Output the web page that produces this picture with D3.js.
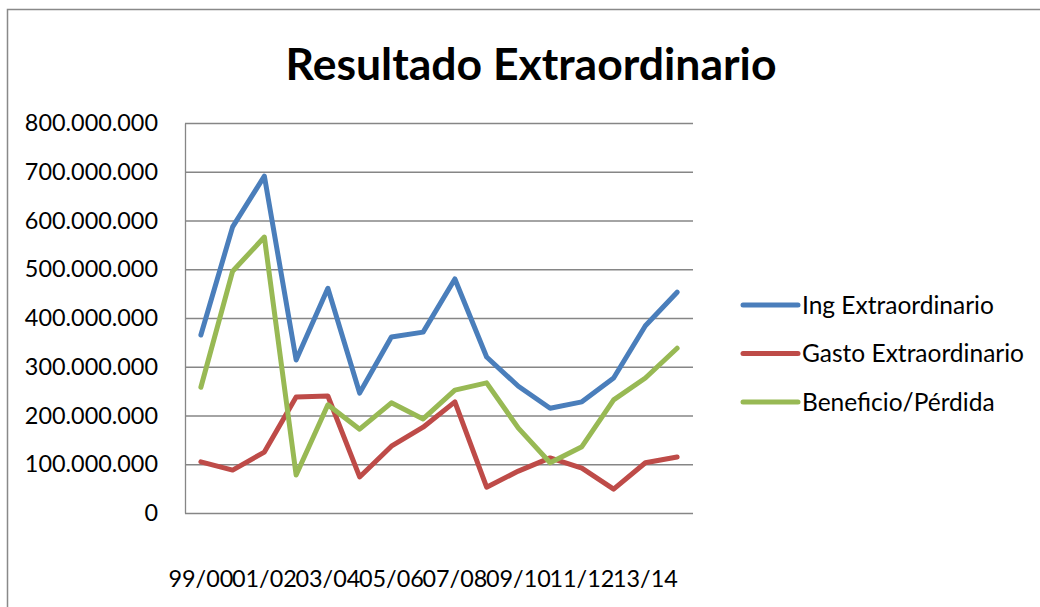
<!DOCTYPE html>
<html>
<head>
<meta charset="utf-8">
<script src="https://cdn.jsdelivr.net/npm/d3@7"></script>
<style>
  body { margin: 0; background: #fff; }
  svg { display: block; font-family: Lato, "Open Sans", sans-serif; }
</style>
</head>
<body>
<svg id="svg" width="1040" height="607"></svg>
<script>
// categories (16 seasons) and series
const categories = ['99/00', '00/01', '01/02', '02/03', '03/04', '04/05', '05/06', '06/07',
                    '07/08', '08/09', '09/10', '10/11', '11/12', '12/13', '13/14', '14/15'];
const ingExtra   = [365, 587, 691, 314, 461, 246, 361, 371, 480, 320, 260, 215, 228, 277, 384, 453];
const gastoExtra = [105, 88, 125, 238, 240, 74, 137, 176, 228, 53, 86, 113, 92, 49, 103, 115];
const beneficio  = [258, 496, 566, 78, 222, 172, 226, 193, 252, 267, 174, 103, 136, 232, 277, 338];
const yTicks = [0, 100, 200, 300, 400, 500, 600, 700, 800];

const series = [
  { name: 'Ing Extraordinario', values: ingExtra, color: '#4a7ebb' },
  { name: 'Gasto Extraordinario', values: gastoExtra, color: '#be4b48' },
  { name: 'Beneficio/Pérdida', values: beneficio, color: '#98b954' }
];

const svg = d3.select('#svg');
const plot = { left: 185, right: 693, top: 123, bottom: 513 };

// outer chart frame
svg.append('rect')
  .attr('x', 7.5).attr('y', 9.5)
  .attr('width', 1100).attr('height', 700)
  .attr('fill', 'none').attr('stroke', '#898989').attr('stroke-width', 1.5);

svg.append('text')
  .attr('x', 531).attr('y', 80)
  .attr('text-anchor', 'middle')
  .style('font-size', '44.5px').style('font-weight', 'bold')
  .text('Resultado Extraordinario');

const x = d3.scaleBand().domain(categories).range([plot.left, plot.right]);
const y = d3.scaleLinear().domain([0, 800]).range([plot.bottom, plot.top]);

// horizontal gridlines
svg.append('g')
  .attr('transform', 'translate(' + plot.left + ',0)')
  .call(d3.axisLeft(y).tickValues(yTicks).tickSize(-(plot.right - plot.left)).tickFormat(''))
  .call(g => g.select('.domain').remove())
  .selectAll('line').attr('stroke', '#868686').attr('stroke-width', 1.3);

// y axis with labels
svg.append('g')
  .attr('transform', 'translate(' + plot.left + ',0)')
  .call(d3.axisLeft(y).tickValues(yTicks).tickSize(0).tickPadding(27)
    .tickFormat(d => d === 0 ? '0' : d3.format(',')(d * 1e6).replace(/,/g, '.')))
  .call(g => g.select('.domain').attr('stroke', '#868686').attr('stroke-width', 1.3))
  .selectAll('text')
  .attr('fill', '#000').style('font-size', '23.4px')
  .style('font-family', 'Lato, "Open Sans", sans-serif');

// x axis labels (every other category, as in the original)
svg.append('g')
  .attr('transform', 'translate(0,' + plot.bottom + ')')
  .call(d3.axisBottom(x).tickValues(categories.filter((d, i) => i % 2 === 0)).tickSize(0).tickPadding(57))
  .call(g => g.select('.domain').remove())
  .selectAll('text')
  .attr('fill', '#000').style('font-size', '23.4px')
  .style('font-family', 'Lato, "Open Sans", sans-serif');

const line = d3.line()
  .x((d, i) => x(categories[i]) + x.bandwidth() / 2)
  .y(d => y(d));

svg.selectAll('.series')
  .data(series)
  .enter()
  .append('path')
    .attr('class', 'series')
    .attr('fill', 'none')
    .attr('stroke', d => d.color)
    .attr('stroke-width', 5)
    .attr('stroke-linejoin', 'round')
    .attr('stroke-linecap', 'round')
    .attr('d', d => line(d.values));

// legend
const legend = svg.selectAll('.legend')
  .data(series)
  .enter()
  .append('g')
    .attr('class', 'legend')
    .attr('transform', (d, i) => 'translate(743,' + (305 + i * 48.5) + ')');

legend.append('line')
  .attr('x1', 0).attr('x2', 55)
  .attr('stroke', d => d.color).attr('stroke-width', 5).attr('stroke-linecap', 'round');

legend.append('text')
  .attr('x', 59).attr('dy', '0.35em')
  .style('font-size', '24.5px')
  .text(d => d.name);
</script>
</body>
</html>
